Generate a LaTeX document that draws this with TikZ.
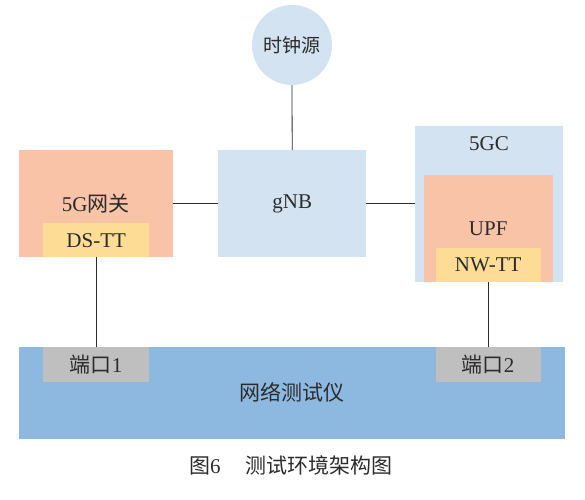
\documentclass[tikz,border=0pt]{standalone}
\usepackage{fontspec}
\setmainfont{Liberation Serif}
\newfontfamily\cjk{Noto Sans CJK SC}
\usetikzlibrary{positioning}

\definecolor{lightblue}{HTML}{D4E3F1}
\definecolor{salmon}{HTML}{F8C3A7}
\definecolor{sand}{HTML}{FDDC95}
\definecolor{tester}{HTML}{8DB9E1}
\definecolor{portgray}{HTML}{BFBFBF}
\definecolor{ink}{HTML}{2B2B2B}

\begin{document}
\begin{tikzpicture}[
			x = 1pt, y = -1pt,
			every node/.style = {font = \fontsize{21}{24}\selectfont, text = ink},
			box/.style = {rectangle, inner sep = 0pt, anchor = north west},
			wire/.style = {draw = ink, line width = 0.8pt}]

			\useasboundingbox (0,0) rectangle (585,499);

			% clock source and base station
			\node[circle, fill=lightblue, minimum size=80pt, inner sep=0pt, font=\fontsize{19}{22}\selectfont] (clk) at (292,45) {\cjk 时钟源};
			\node[box, fill=lightblue, minimum width=148pt, minimum height=107pt] (gnb) at (218,150) {gNB};

			% 5G gateway with DS-TT
			\node[box, fill=salmon, minimum width=154pt, minimum height=107pt] (gw) at (18.5,150) {5G{\cjk 网关}};
			\node[box, fill=sand, minimum width=106pt, minimum height=34pt] (dstt) at (43,223) {DS-TT};

			% core network with UPF and NW-TT
			\node[box, fill=lightblue, minimum width=148pt, minimum height=156pt] (core) at (414.5,126) {};
			\node (corelbl) at (489,144) {5GC};
			\node[box, fill=salmon, minimum width=129pt, minimum height=107pt] (upf) at (423.5,175) {UPF};
			\node[box, fill=sand, minimum width=105pt, minimum height=34pt] (nwtt) at (435.5,248) {NW-TT};

			% network tester with two ports
			\node[box, fill=tester, minimum width=546pt, minimum height=92pt] (nt) at (18.5,346.5) {\cjk 网络测试仪};
			\node[box, fill=portgray, minimum width=106pt, minimum height=35pt] (port1) at (43,346.5) {{\cjk 端口}1};
			\node[box, fill=portgray, minimum width=105pt, minimum height=35pt] (port2) at (435.5,346.5) {{\cjk 端口}2};

			\draw[wire] (clk.south) -- (gnb.north);
			\draw[wire] (gw.east) -- (gnb.west);
			\draw[wire] (gnb.east) -- (gnb.east -| core.west);
			\draw[wire] (dstt.south) -- (port1.north);
			\draw[wire] (nwtt.south) -- (port2.north);

			\node (caption) at (291,465) {{\cjk 图}6\hspace{1.2em}{\cjk 测试环境架构图}};

		\end{tikzpicture}
\end{document}
